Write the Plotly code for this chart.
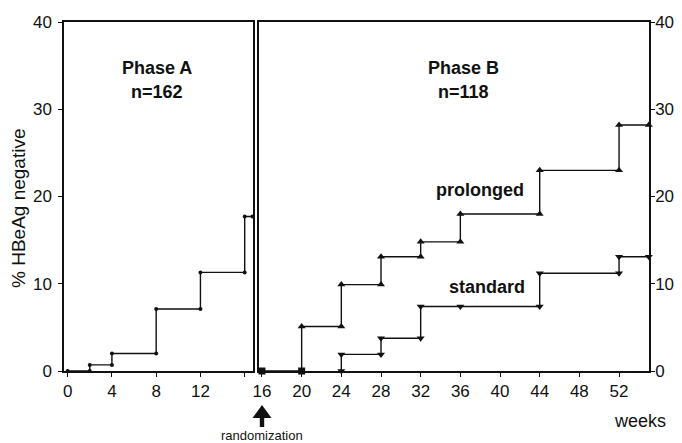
import plotly.graph_objects as go

# ---------------- data ----------------
phaseA_weeks = [0, 2, 4, 8, 12, 16, 16.7]
phaseA_pct = [0, 0.7, 2.0, 7.1, 11.3, 17.7, 17.7]

prolonged_weeks = [16, 20, 24, 28, 32, 36, 44, 52, 55]
prolonged_pct = [0, 5.1, 9.9, 13.1, 14.8, 18.0, 23.0, 28.2, 28.2]

standard_weeks = [24, 28, 32, 36, 44, 52, 55]
standard_pct = [1.9, 3.75, 7.4, 7.4, 11.2, 13.1, 13.1]

left_ticks = [0, 4, 8, 12, 16]
left_ticklabels = ["0", "4", "8", "12", ""]
right_ticks = [16, 20, 24, 28, 32, 36, 40, 44, 48, 52]
y_ticks = [0, 10, 20, 30, 40]


def step_vertices(weeks, vals, start=0.0):
    """Kaplan-Meier style step path with a vertex at both ends of every jump."""
    xs, ys = [], []
    prev = start
    for w, v in zip(weeks, vals):
        xs.append(w); ys.append(prev)
        if v != prev:
            xs.append(w); ys.append(v)
        prev = v
    return xs, ys


# ---------------- geometry (page pixels; page has 8px body margin) ----------------
PAGE_W, PAGE_H = 682, 443
OFF = 8
W, H = PAGE_W - OFF, PAGE_H - OFF
PL, PR, PT, PB = 64, 649, 22, 371     # plot area in page pixels
ML, MR, MT, MB = PL - OFF, PAGE_W - PR, PT - OFF, PAGE_H - PB
PW = PR - PL
PH = PB - PT


def px_x(px):
    return (px - PL) / PW


def px_y(py):
    return (PB - py) / PH


FONT = "Liberation Sans, Arial, sans-serif"
INK = "#111111"

fig = go.Figure()

ax_, ay_ = step_vertices(phaseA_weeks, phaseA_pct)
fig.add_trace(go.Scatter(x=ax_, y=ay_, mode="lines+markers", xaxis="x", yaxis="y",
                         line=dict(color=INK, width=1.4),
                         marker=dict(symbol="circle", size=4, color=INK),
                         showlegend=False, cliponaxis=False))

px_, py_ = step_vertices(prolonged_weeks, prolonged_pct)
fig.add_trace(go.Scatter(x=px_, y=py_, mode="lines+markers", xaxis="x2", yaxis="y2",
                         line=dict(color=INK, width=1.4),
                         marker=dict(symbol=["square" if v == 0 else "triangle-up" for v in py_],
                                     size=7, color=INK),
                         showlegend=False, cliponaxis=False))

sx_, sy_ = step_vertices(standard_weeks, standard_pct)
fig.add_trace(go.Scatter(x=sx_, y=sy_, mode="lines+markers", xaxis="x2", yaxis="y2",
                         line=dict(color=INK, width=1.4),
                         marker=dict(symbol="triangle-down", size=7, color=INK),
                         showlegend=False, cliponaxis=False))

tickfont = dict(family=FONT, size=17, color=INK)
axline = dict(showline=True, linecolor=INK, linewidth=1.5, mirror=True,
              showgrid=False, zeroline=False, ticks="outside", ticklen=4,
              tickcolor=INK, tickwidth=1, tickfont=tickfont)

left_right_px = 253
right_left_px = 259
fig.update_layout(
    width=W, height=H,
    margin=dict(l=ML, r=MR, t=MT, b=MB, autoexpand=False),
    paper_bgcolor="white", plot_bgcolor="white",
    xaxis=dict(domain=[0, px_x(left_right_px)], range=[-0.33, 16.75],
               tickvals=left_ticks, ticktext=left_ticklabels, anchor="y", **axline),
    yaxis=dict(domain=[0, 1], range=[0, 40], tickvals=y_ticks, anchor="x",
               ticklabelstandoff=3, **axline),
    xaxis2=dict(domain=[px_x(right_left_px), 1], range=[15.70, 55.02],
                tickvals=right_ticks, anchor="y2", **axline),
    yaxis2=dict(domain=[0, 1], range=[0, 40], tickvals=y_ticks, anchor="x2",
                side="right", ticklabelstandoff=-3, **axline),
)

bold = dict(family=FONT, size=18, color=INK)
ann = [
    dict(x=8.1, y=34.75, xref="x", yref="y", text="<b>Phase A</b>"),
    dict(x=8.1, y=32.0, xref="x", yref="y", text="<b>n=162</b>"),
    dict(x=36.3, y=34.75, xref="x2", yref="y2", text="<b>Phase B</b>"),
    dict(x=36.3, y=32.0, xref="x2", yref="y2", text="<b>n=118</b>"),
    dict(x=38.0, y=20.76, xref="x2", yref="y2", text="<b>prolonged</b>"),
    dict(x=38.7, y=9.63, xref="x2", yref="y2", text="<b>standard</b>"),
]
for a in ann:
    fig.add_annotation(showarrow=False, font=bold, xanchor="center", yanchor="middle", **a)

fig.add_annotation(x=px_x(18), y=px_y(208), xref="paper", yref="paper",
                   text="% HBeAg negative", textangle=-90, showarrow=False,
                   font=dict(family=FONT, size=19, color=INK),
                   xanchor="center", yanchor="middle")
fig.add_annotation(x=px_x(640), y=px_y(421), xref="paper", yref="paper",
                   text="weeks", showarrow=False,
                   font=dict(family=FONT, size=18, color=INK),
                   xanchor="center", yanchor="middle")
fig.add_annotation(x=px_x(262), y=px_y(435), xref="paper", yref="paper",
                   text="randomization", showarrow=False,
                   font=dict(family=FONT, size=13, color=INK),
                   xanchor="center", yanchor="middle")

# thick up-arrow under week 16
cx = 262
tip, head_base, tail = 405, 418, 427
hw, sw = 9.5, 2.2
path = (f"M {px_x(cx)} {px_y(tip)} L {px_x(cx + hw)} {px_y(head_base)} "
        f"L {px_x(cx + sw)} {px_y(head_base)} L {px_x(cx + sw)} {px_y(tail)} "
        f"L {px_x(cx - sw)} {px_y(tail)} L {px_x(cx - sw)} {px_y(head_base)} "
        f"L {px_x(cx - hw)} {px_y(head_base)} Z")
fig.add_shape(type="path", path=path, xref="paper", yref="paper",
              fillcolor=INK, line=dict(width=0))

fig.write_html("out.html")
